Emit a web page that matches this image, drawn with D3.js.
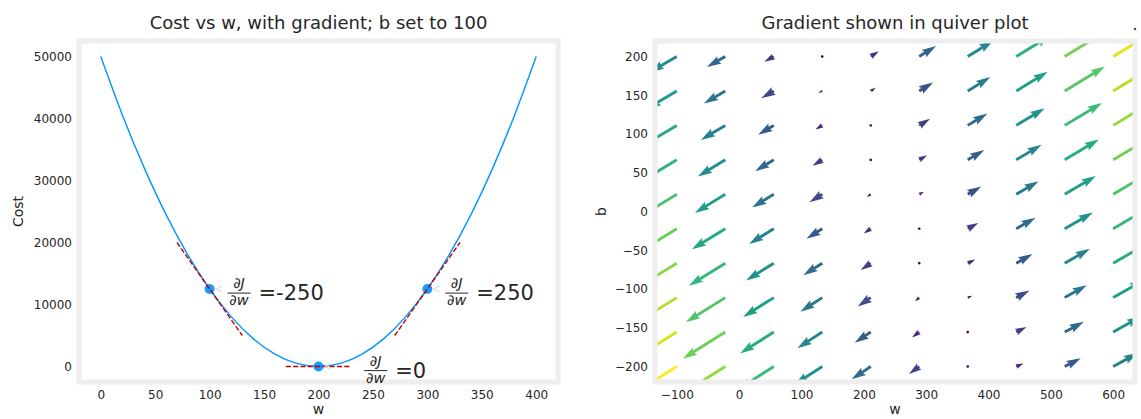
<!DOCTYPE html>
<html>
<head>
<meta charset="utf-8">
<title>Cost vs w, with gradient; quiver plot</title>
<style>
  body { margin: 0; background: #fff; }
  svg text { font-family: "DejaVu Sans", sans-serif; fill: #262626; }
</style>
</head>
<body>
<svg id="chart" width="1141" height="419"></svg>
<script src="https://cdn.jsdelivr.net/npm/d3@7"></script>
<script>
// ---------------- data ----------------
// cost curve, b fixed at 100
const costW = [0, 20, 40, 60, 80, 100, 120, 140, 160, 180, 200,
               220, 240, 260, 280, 300, 320, 340, 360, 380, 400];
const costJ = [50000, 40500, 32000, 24500, 18000, 12500, 8000, 4500, 2000, 500, 0,
               500, 2000, 4500, 8000, 12500, 18000, 24500, 32000, 40500, 50000];

// points where the gradient is shown
const tangentW = [100, 200, 300];
const tangentJ = [12500, 0, 12500];
const tangentSlope = [-250, 0, 250];

// quiver grid
const quiverW = [-100, -22.22, 55.56, 133.33, 211.11, 288.89, 366.67, 444.44, 522.22, 600];
const quiverB = [-200, -155.56, -111.11, -66.67, -22.22, 22.22, 66.67, 111.11, 155.56, 200];
// rows follow quiverB, columns follow quiverW
const quiverU = [
  [-1200, -1005.6, -811.1, -616.7, -422.2, -227.8, -33.3, 161.1, 355.6, 550],
  [-1133.3, -938.9, -744.4, -550, -355.6, -161.1, 33.3, 227.8, 422.2, 616.7],
  [-1066.7, -872.2, -677.8, -483.3, -288.9, -94.4, 100, 294.4, 488.9, 683.3],
  [-1000, -805.6, -611.1, -416.7, -222.2, -27.8, 166.7, 361.1, 555.6, 750],
  [-933.3, -738.9, -544.4, -350, -155.6, 38.9, 233.3, 427.8, 622.2, 816.7],
  [-866.7, -672.2, -477.8, -283.3, -88.9, 105.6, 300, 494.4, 688.9, 883.3],
  [-800, -605.6, -411.1, -216.7, -22.2, 172.2, 366.7, 561.1, 755.6, 950],
  [-733.3, -538.9, -344.4, -150, 44.4, 238.9, 433.3, 627.8, 822.2, 1016.7],
  [-666.7, -472.2, -277.8, -83.3, 111.1, 305.6, 500, 694.4, 888.9, 1083.3],
  [-600, -405.6, -211.1, -16.7, 177.8, 372.2, 566.7, 761.1, 955.6, 1150]
];
const quiverV = [
  [-750, -633.3, -516.7, -400, -283.3, -166.7, -50, 66.7, 183.3, 300],
  [-705.6, -588.9, -472.2, -355.6, -238.9, -122.2, -5.6, 111.1, 227.8, 344.4],
  [-661.1, -544.4, -427.8, -311.1, -194.4, -77.8, 38.9, 155.6, 272.2, 388.9],
  [-616.7, -500, -383.3, -266.7, -150, -33.3, 83.3, 200, 316.7, 433.3],
  [-572.2, -455.6, -338.9, -222.2, -105.6, 11.1, 127.8, 244.4, 361.1, 477.8],
  [-527.8, -411.1, -294.4, -177.8, -61.1, 55.6, 172.2, 288.9, 405.6, 522.2],
  [-483.3, -366.7, -250, -133.3, -16.7, 100, 216.7, 333.3, 450, 566.7],
  [-438.9, -322.2, -205.6, -88.9, 27.8, 144.4, 261.1, 377.8, 494.4, 611.1],
  [-394.4, -277.8, -161.1, -44.4, 72.2, 188.9, 305.6, 422.2, 538.9, 655.6],
  [-350, -233.3, -116.7, 0, 116.7, 233.3, 350, 466.7, 583.3, 700]
];

const leftXTicks = [0, 50, 100, 150, 200, 250, 300, 350, 400];
const leftYTicks = [0, 10000, 20000, 30000, 40000, 50000];
const rightXTicks = [-100, 0, 100, 200, 300, 400, 500, 600];
const rightYTicks = [-200, -150, -100, -50, 0, 50, 100, 150, 200];

// ---------------- layout ----------------
const axTop = 41, axBottom = 382;
const blue = "#0096ff", darkred = "#C00000", frameColor = "#eeeeee";
const fmt = d3.format("d");

const svg = d3.select("#chart");
const defs = svg.append("defs");

function frame(x0, x1) {
  svg.append("rect")
    .attr("x", x0).attr("y", axTop)
    .attr("width", x1 - x0).attr("height", axBottom - axTop)
    .attr("fill", "none")
    .attr("stroke", frameColor)
    .attr("stroke-width", 5);
}

function axes(x, y, xTicks, yTicks) {
  const gx = svg.append("g")
    .attr("transform", `translate(0,${axBottom})`)
    .call(d3.axisBottom(x).tickValues(xTicks).tickSize(0).tickPadding(8.5).tickFormat(fmt));
  const gy = svg.append("g")
    .attr("transform", `translate(${x.range()[0]},0)`)
    .call(d3.axisLeft(y).tickValues(yTicks).tickSize(0).tickPadding(7).tickFormat(fmt));
  [gx, gy].forEach(g => {
    g.select(".domain").remove();
    g.selectAll("text")
      .attr("font-family", "DejaVu Sans")
      .attr("font-size", 12)
      .attr("fill", "#262626");
  });
}

// ================= left: cost vs w =================
const x1 = d3.scaleLinear().domain([-20, 420]).range([79, 558]);
const y1 = d3.scaleLinear().domain([-2500, 52500]).range([axBottom, axTop]);

svg.append("text")
  .attr("x", (x1.range()[0] + x1.range()[1]) / 2).attr("y", 29)
  .attr("text-anchor", "middle").attr("font-size", 18)
  .text("Cost vs w, with gradient; b set to 100");

defs.append("clipPath").attr("id", "clipL")
  .append("rect")
  .attr("x", x1.range()[0]).attr("y", axTop)
  .attr("width", x1.range()[1] - x1.range()[0]).attr("height", axBottom - axTop);

const leftG = svg.append("g").attr("clip-path", "url(#clipL)");

// dots sit under the curve
leftG.selectAll("circle.pt")
  .data(tangentW)
  .join("circle")
  .attr("class", "pt")
  .attr("cx", d => x1(d))
  .attr("cy", (d, i) => y1(tangentJ[i]))
  .attr("r", 5)
  .attr("fill", "#1a9cff");

leftG.append("path")
  .datum(costW.map((w, i) => [w, costJ[i]]))
  .attr("fill", "none")
  .attr("stroke", blue)
  .attr("stroke-width", 1.4)
  .attr("d", d3.line().x(d => x1(d[0])).y(d => y1(d[1])).curve(d3.curveNatural));

// tangent lines, +-30 around each point
leftG.selectAll("line.tan")
  .data(tangentW)
  .join("line")
  .attr("class", "tan")
  .attr("x1", d => x1(d - 30))
  .attr("x2", d => x1(d + 30))
  .attr("y1", (d, i) => y1(tangentJ[i] - 30 * tangentSlope[i]))
  .attr("y2", (d, i) => y1(tangentJ[i] + 30 * tangentSlope[i]))
  .attr("stroke", darkred)
  .attr("stroke-width", 1.4)
  .attr("stroke-dasharray", "5.1,2.2");

frame(x1.range()[0], x1.range()[1]);
axes(x1, y1, leftXTicks, leftYTicks);

// annotations  dJ/dw =value
tangentW.forEach((w, i) => {
  const px = x1(w), py = y1(tangentJ[i]);
  const xoff = w === 200 ? 30 : 10;
  const lx = px + xoff * 1.389 + 4;
  const ty = py - 13.9;
  const g = svg.append("g");

  // faint annotation arrow head
  g.append("path")
    .attr("d", `M${px + 12},${py - 3}L${px + 7},${py}L${px + 12},${py + 3}`)
    .attr("fill", "none").attr("stroke", "#dddddd").attr("stroke-width", 1.2);

  g.append("text")
    .attr("x", lx + 11.5).attr("y", ty + 13)
    .attr("text-anchor", "middle").attr("font-size", 14.5).attr("font-style", "italic")
    .text("\u2202J");
  g.append("line")
    .attr("x1", lx).attr("x2", lx + 23)
    .attr("y1", ty + 18).attr("y2", ty + 18)
    .attr("stroke", "#262626").attr("stroke-width", 1);
  g.append("text")
    .attr("x", lx + 11.5).attr("y", ty + 30)
    .attr("text-anchor", "middle").attr("font-size", 14.5).attr("font-style", "italic")
    .text("\u2202w");
  g.append("text")
    .attr("x", lx + 31).attr("y", ty + 25)
    .attr("font-size", 21)
    .text("=" + tangentSlope[i]);
});

svg.append("text")
  .attr("transform", `translate(23,${(axTop + axBottom) / 2}) rotate(-90)`)
  .attr("text-anchor", "middle").attr("font-size", 14)
  .text("Cost");
svg.append("text")
  .attr("x", (x1.range()[0] + x1.range()[1]) / 2).attr("y", 414)
  .attr("text-anchor", "middle").attr("font-size", 14)
  .text("w");

// ================= right: quiver =================
const x2 = d3.scaleLinear().domain([-135, 635]).range([655, 1135]);
const y2 = d3.scaleLinear().domain([-220, 220]).range([axBottom, axTop]);
const axW = x2.range()[1] - x2.range()[0];

svg.append("text")
  .attr("x", (x2.range()[0] + x2.range()[1]) / 2).attr("y", 29)
  .attr("text-anchor", "middle").attr("font-size", 18)
  .text("Gradient shown in quiver plot");

defs.append("clipPath").attr("id", "clipR")
  .append("rect")
  .attr("x", x2.range()[0]).attr("y", axTop)
  .attr("width", axW).attr("height", axBottom - axTop);

const arrows = [];
quiverB.forEach((b, r) => {
  quiverW.forEach((w, c) => {
    const u = quiverU[r][c], v = quiverV[r][c];
    arrows.push({
      w, b, u, v,
      mag: Math.hypot(u, v),
      c: Math.hypot((v + 2) / 2, (u + 2) / 2)
    });
  });
});

// matplotlib-style autoscale, units = axes width
const amean = d3.mean(arrows, d => d.mag);
const qScale = 1.8 * amean * 10;
const shaftW = 0.006 * axW;
const color = d3.scaleSequential(d3.interpolateViridis).domain(d3.extent(arrows, d => d.c));

function arrowShape(Lw) {
  const hw = 3, hl = 5, hal = 4.5, minsh = hl;
  if (Lw < 1) {
    return d3.range(8).map(k => [Math.cos(k * Math.PI / 3) * 0.5, Math.sin(k * Math.PI / 3) * 0.5]);
  }
  let xs, ys = [0.5, 0.5, hw / 2, 0, -hw / 2, -0.5, -0.5, 0.5];
  if (Lw < minsh) {
    const s = Lw / minsh;
    xs = [0, minsh - hal, minsh - hl, minsh, minsh - hl, minsh - hal, 0, 0].map(v => v * s);
    ys = ys.map(v => v * s);
  } else {
    xs = [0, Lw - hal, Lw - hl, Lw, Lw - hl, Lw - hal, 0, 0];
  }
  return xs.map((x, k) => [x, ys[k]]);
}

svg.append("g").attr("clip-path", "url(#clipR)")
  .selectAll("path")
  .data(arrows)
  .join("path")
  .attr("fill", d => color(d.c))
  .attr("d", d => {
    const Lw = d.mag / qScale * axW / shaftW;
    const th = Math.atan2(d.v, d.u);
    const cs = Math.cos(th), sn = Math.sin(th);
    const tx = x2(d.w), ty = y2(d.b);
    const pts = arrowShape(Lw).map(([x, y]) => [
      tx + shaftW * (x * cs - y * sn),
      ty - shaftW * (x * sn + y * cs)
    ]);
    return "M" + pts.map(p => p.join(",")).join("L") + "Z";
  });

frame(x2.range()[0], x2.range()[1]);
axes(x2, y2, rightXTicks, rightYTicks);

svg.append("text")
  .attr("transform", `translate(606,${(axTop + axBottom) / 2}) rotate(-90)`)
  .attr("text-anchor", "middle").attr("font-size", 14)
  .text("b");
svg.append("text")
  .attr("x", (x2.range()[0] + x2.range()[1]) / 2).attr("y", 414)
  .attr("text-anchor", "middle").attr("font-size", 14)
  .text("w");

// quiver key (tiny)
svg.append("circle")
  .attr("cx", 1135).attr("cy", 29).attr("r", 1.3)
  .attr("fill", "#555");
</script>
</body>
</html>
